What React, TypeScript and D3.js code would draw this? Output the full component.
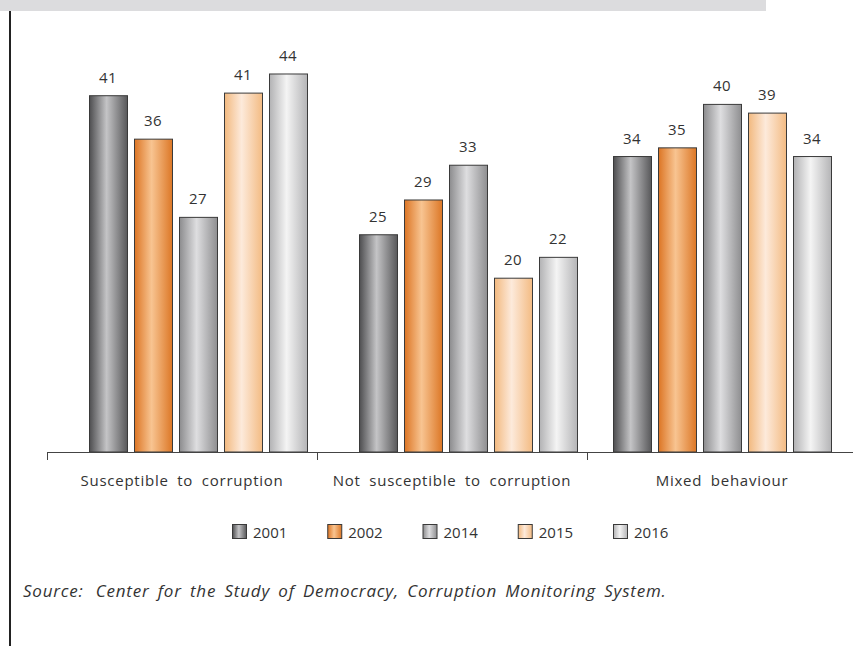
import React from "react";
import * as d3 from "d3";

const categories = ["Susceptible to corruption", "Not susceptible to corruption", "Mixed behaviour"];
const years = ["2001", "2002", "2014", "2015", "2016"];
const values2001 = [41, 25, 34];
const values2002 = [36, 29, 35];
const values2014 = [27, 33, 40];
const values2015 = [41.3, 20, 39];
const values2016 = [43.5, 22.4, 34];
const seriesValues = [values2001, values2002, values2014, values2015, values2016];

const gradients = [
  { id: "g2001", edge: "#4e4e50", mid: "#c4c4c6", edge2: "#58585a" },
  { id: "g2002", edge: "#dc7524", mid: "#f8c491", edge2: "#dc7726" },
  { id: "g2014", edge: "#8c8c8e", mid: "#dedee0", edge2: "#8e8e90" },
  { id: "g2015", edge: "#f2b97f", mid: "#fdeadb", edge2: "#f3bb83" },
  { id: "g2016", edge: "#b2b2b4", mid: "#f4f4f4", edge2: "#b4b4b6" },
];
// horizontal shift of each group's bars relative to the band centre (layout quirk of the original)
const groupShift = [16, 16, 0];

const W = 853;
const H = 646;
const FONT = "'Open Sans', 'DejaVu Sans', sans-serif";
const TEXT = "#333";

export default function App() {
  const baseline = 452;
  const x0 = d3.scaleBand<string>().domain(categories).range([47, 857]).padding(0);
  const x1 = d3.scaleBand<string>().domain(years).range([0, 218]).paddingInner(7 / 45).paddingOuter(0);
  const y = d3.scaleLinear().domain([0, 50]).range([baseline, baseline - 434.5]);
  const fmt = d3.format(".0f");
  const legendX = d3.scalePoint<string>().domain(years).range([232, 613]);

  return (
    <svg width={W} height={H} style={{ position: "absolute", left: 0, top: 0, background: "#fff" }}>
      <defs>
        {gradients.map((g) => (
          <linearGradient key={g.id} id={g.id} x1="0" x2="1" y1="0" y2="0">
            <stop offset="0" stopColor={g.edge} />
            <stop offset="0.45" stopColor={g.mid} />
            <stop offset="1" stopColor={g.edge2} />
          </linearGradient>
        ))}
      </defs>
      <rect x={0} y={0} width={766} height={11} fill="#dcdcde" />
      <line x1={10} x2={10} y1={11} y2={H} stroke="#222" strokeWidth={2} />

      {/* bars */}
      {categories.map((cat, ci) => {
        const gx = x0(cat)! + x0.bandwidth() / 2 - 109 + groupShift[ci];
        return (
          <g key={cat} transform={`translate(${gx},0)`}>
            {years.map((yr, si) => {
              const v = seriesValues[si][ci];
              const bx = x1(yr)!;
              return (
                <g key={yr}>
                  <rect
                    x={bx + 0.5}
                    y={y(v)}
                    width={x1.bandwidth()}
                    height={baseline - y(v)}
                    fill={`url(#${gradients[si].id})`}
                    stroke="#3a3a3a"
                    strokeWidth={1}
                  />
                  <text
                    x={bx + x1.bandwidth() / 2}
                    y={y(v) - 13}
                    textAnchor="middle"
                    fontFamily={FONT}
                    fontSize={15}
                    fill={TEXT}
                    style={{ letterSpacing: "0.5px" }}
                  >
                    {fmt(v)}
                  </text>
                </g>
              );
            })}
          </g>
        );
      })}

      {/* axis */}
      <line x1={47} x2={W} y1={baseline + 0.5} y2={baseline + 0.5} stroke="#444" strokeWidth={1} />
      {categories.map((cat) => (
        <line key={cat} x1={x0(cat)! + 0.5} x2={x0(cat)! + 0.5} y1={baseline} y2={baseline + 8} stroke="#444" strokeWidth={1} />
      ))}
      {categories.map((cat) => (
        <text
          key={cat}
          x={x0(cat)! + x0.bandwidth() / 2}
          y={486}
          textAnchor="middle"
          fontFamily={FONT}
          fontSize={15}
          fill={TEXT}
          style={{ wordSpacing: "4px", letterSpacing: "0.75px" }}
        >
          {cat}
        </text>
      ))}

      {/* legend */}
      {years.map((yr, si) => (
        <g key={yr} transform={`translate(${legendX(yr)},524)`}>
          <rect x={0.5} y={0.5} width={14} height={14} fill={`url(#${gradients[si].id})`} stroke="#3a3a3a" />
          <text x={21} y={14} fontFamily={FONT} fontSize={15} fill={TEXT}>
            {yr}
          </text>
        </g>
      ))}

      {/* source */}
      <text x={23} y={597} fontFamily={FONT} fontSize={17} fontStyle="italic" fill={TEXT} style={{ letterSpacing: "0.8px", wordSpacing: "3px" }}>
        <tspan>Source:</tspan>
        <tspan dx={12}>Center for the Study of Democracy, Corruption Monitoring System.</tspan>
      </text>
    </svg>
  );
}
